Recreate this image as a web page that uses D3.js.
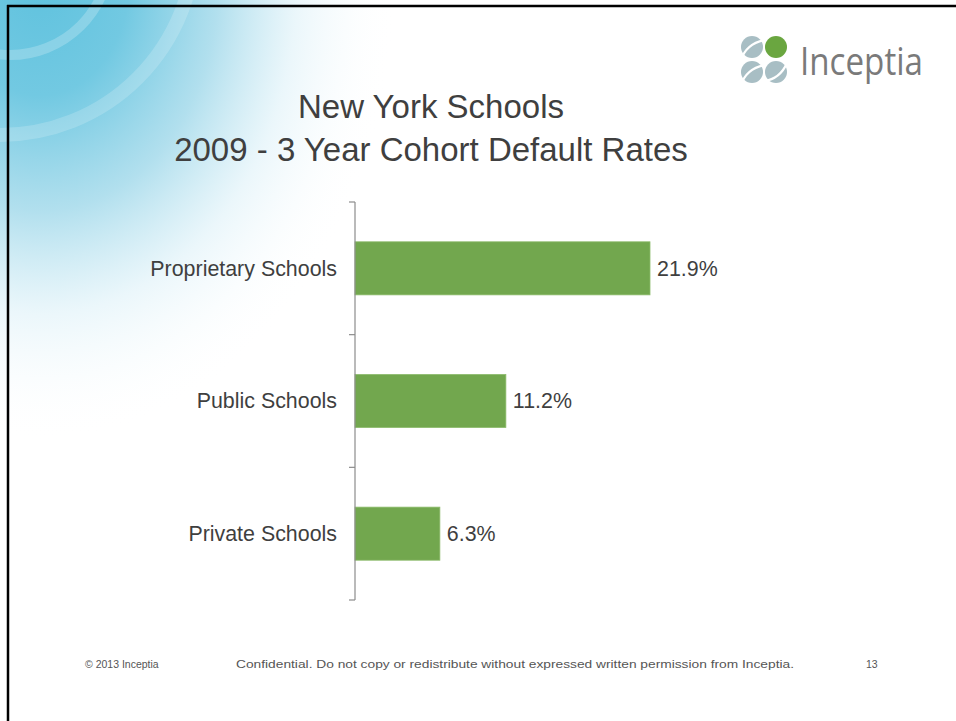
<!DOCTYPE html>
<html>
<head>
<meta charset="utf-8">
<script src="https://cdn.jsdelivr.net/npm/d3@7"></script>
<style>
  html, body { margin: 0; padding: 0; background: #fff; }
  svg { display: block; }
</style>
</head>
<body>
<svg id="chart" width="956" height="721"></svg>
<script>
const categories = ["Proprietary Schools", "Public Schools", "Private Schools"];
const values = [21.9, 11.2, 6.3];
const valueLabels = ["21.9%", "11.2%", "6.3%"];
const titleLines = ["New York Schools", "2009 - 3 Year Cohort Default Rates"];
const footerLeft = "© 2013 Inceptia";
const footerCenter = "Confidential. Do not copy or redistribute without expressed written permission from Inceptia.";
const footerRight = "13";

const svg = d3.select("#chart");
const defs = svg.append("defs");

// Background gradient (top-left blue swoosh)
const grad = defs.append("radialGradient")
  .attr("id", "bg").attr("gradientUnits", "userSpaceOnUse")
  .attr("cx", 40).attr("cy", -20).attr("r", 420)
  .attr("gradientTransform", "translate(40,-20) scale(0.85,1.1) translate(-40,20)");
[[0, "#5fc2de", 1], [0.25, "#72c9e2", 1], [0.5, "#a9dcec", 0.9], [0.72, "#e2f3f9", 0.7], [1, "#ffffff", 0]]
  .forEach(s => grad.append("stop").attr("offset", s[0]).attr("stop-color", s[1]).attr("stop-opacity", s[2]));
svg.append("rect").attr("x", 0).attr("y", 0).attr("width", 956).attr("height", 721).attr("fill", "#fff");
svg.append("rect").attr("x", 0).attr("y", 0).attr("width", 600).attr("height", 600).attr("fill", "url(#bg)");

// subtle arcs
const bgArcs = svg.append("g").attr("fill", "none").attr("stroke", "#ffffff");
bgArcs.append("circle").attr("cx", 10).attr("cy", -45).attr("r", 100).attr("stroke-width", 10).attr("stroke-opacity", 0.22);
bgArcs.append("circle").attr("cx", 0).attr("cy", -60).attr("r", 195).attr("stroke-width", 14).attr("stroke-opacity", 0.18);

// Slide border
svg.append("line").attr("x1", 7).attr("x2", 956).attr("y1", 6).attr("y2", 6).attr("stroke", "#000").attr("stroke-width", 2.5);
svg.append("line").attr("x1", 8).attr("x2", 8).attr("y1", 5).attr("y2", 721).attr("stroke", "#000").attr("stroke-width", 2.5);

// Logo
const logo = svg.append("g");
const circ = [[752, 47, "#a8bec4"], [776, 47, "#6aa640"], [752, 72, "#a8bec4"], [776, 72, "#a8bec4"]];
logo.selectAll("circle").data(circ).join("circle")
  .attr("cx", d => d[0]).attr("cy", d => d[1]).attr("r", 11).attr("fill", d => d[2]);
logo.append("path").attr("d", "M741,60 Q746,44 764,40").attr("fill", "none").attr("stroke", "#fff").attr("stroke-width", 2.2);
logo.append("path").attr("d", "M741,85 Q746,69 764,65").attr("fill", "none").attr("stroke", "#fff").attr("stroke-width", 2.2);
logo.append("path").attr("d", "M764,81 Q780,79 787,63").attr("fill", "none").attr("stroke", "#fff").attr("stroke-width", 2.2);
logo.append("text").attr("x", 800).attr("y", 75)
  .attr("font-family", "'Open Sans', 'Noto Sans', sans-serif").attr("font-size", 38)
  .attr("textLength", 123).attr("lengthAdjust", "spacingAndGlyphs")
  .attr("fill", "#7a7a7a").text("Inceptia");

// Title
svg.append("g").selectAll("text").data(titleLines).join("text")
  .attr("x", 431).attr("y", (d, i) => 118 + i * 43)
  .attr("text-anchor", "middle")
  .attr("font-family", "'Liberation Sans', Arial, sans-serif").attr("font-size", 33)
  .attr("fill", "#3f3f3f").text(d => d);

// Chart
const x0 = 355, yTop = 202, yBottom = 600;
const x = d3.scaleLinear().domain([0, 21.9]).range([x0, 650]);
const y = d3.scaleBand().domain(categories).range([yTop, yBottom]).paddingInner(0.6).paddingOuter(0.3);

const g = svg.append("g");
g.selectAll("rect.bar").data(values).join("rect").attr("class", "bar")
  .attr("x", x(0)).attr("y", (d, i) => y(categories[i]))
  .attr("width", d => x(d) - x(0)).attr("height", y.bandwidth())
  .attr("fill", "#72a74e").attr("stroke", "#8dbb6c").attr("stroke-width", 0.8);

// axis
const axis = d3.axisLeft(y).tickSize(0).tickFormat("");
const ax = g.append("g").attr("transform", `translate(${x0},0)`).call(axis);
ax.select(".domain").attr("stroke", "#8c8c8c").attr("stroke-width", 1.2).attr("d", `M0,${yTop}V${yBottom}`);
const step = y.step();
const boundaries = d3.range(categories.length + 1).map(i => yTop + i * step);
g.selectAll("line.tick").data(boundaries).join("line").attr("class", "tick")
  .attr("x1", x0 - 6).attr("x2", x0).attr("y1", d => d).attr("y2", d => d)
  .attr("stroke", "#8c8c8c").attr("stroke-width", 1.2);

// category labels
g.selectAll("text.cat").data(categories).join("text").attr("class", "cat")
  .attr("x", 337).attr("y", d => y(d) + y.bandwidth() / 2)
  .attr("dy", "0.35em").attr("text-anchor", "end")
  .attr("font-family", "'Liberation Sans', Arial, sans-serif").attr("font-size", 21.4)
  .attr("fill", "#3f3f3f").text(d => d);

// value labels
g.selectAll("text.val").data(values).join("text").attr("class", "val")
  .attr("x", d => x(d) + 7).attr("y", (d, i) => y(categories[i]) + y.bandwidth() / 2)
  .attr("dy", "0.35em")
  .attr("font-family", "'Liberation Sans', Arial, sans-serif").attr("font-size", 21.4)
  .attr("fill", "#3f3f3f").text((d, i) => valueLabels[i]);

// Footer
const ff = "'Liberation Sans Narrow', 'Arial Narrow', 'Liberation Sans', Arial, sans-serif";
svg.append("text").attr("x", 85).attr("y", 668).attr("font-family", ff).attr("font-size", 10.5)
  .attr("fill", "#555").text(footerLeft);
svg.append("text").attr("x", 236).attr("y", 668).attr("font-family", ff).attr("font-size", 10.5)
  .attr("textLength", 558).attr("lengthAdjust", "spacingAndGlyphs")
  .attr("fill", "#555").text(footerCenter);
svg.append("text").attr("x", 866).attr("y", 668).attr("font-family", ff).attr("font-size", 10.5)
  .attr("fill", "#555").text(footerRight);
</script>
</body>
</html>
